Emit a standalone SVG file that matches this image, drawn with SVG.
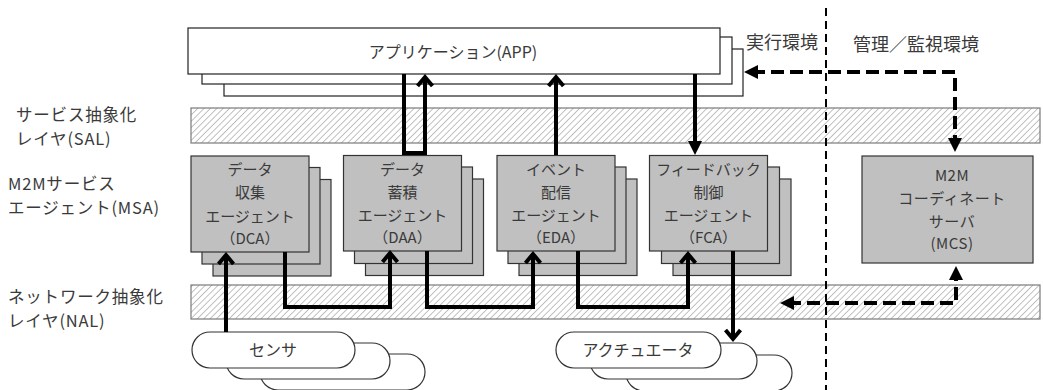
<svg xmlns="http://www.w3.org/2000/svg" width="1043" height="390" viewBox="0 0 1043 390">
<style>
text{font-family:"Noto Sans CJK JP","Noto Sans",sans-serif;fill:#3a3a3a}
.lbl{font-size:16.5px;letter-spacing:0.8px}
.box{font-size:15px;text-anchor:middle}
.app{fill:#fff;stroke:#222;stroke-width:1.2}
.agent{fill:#c0c0c0;stroke:#333;stroke-width:1.2}
.cloud{fill:#fff;stroke:#333;stroke-width:1.2}
.band{fill:url(#hatch);stroke:#7a7a7a;stroke-width:1.2}
.solid{fill:none;stroke:#000;stroke-width:4;stroke-linejoin:miter}
.dash{fill:none;stroke:#000;stroke-width:4;stroke-dasharray:13 6;stroke-linejoin:miter}
</style>
<defs>
<pattern id="hatch" patternUnits="userSpaceOnUse" width="4.5" height="4.5" patternTransform="rotate(45)">
<rect width="4.5" height="4.5" fill="#fff"/>
<line x1="0" y1="0" x2="0" y2="4.5" stroke="#8e8e8e" stroke-width="1.1"/>
</pattern>
<marker id="chev" markerUnits="userSpaceOnUse" viewBox="-14 -11 20 22" markerWidth="20" markerHeight="22" refX="0" refY="0" orient="auto">
<path d="M-9,-7.5 L0,0 L-9,7.5" fill="none" stroke="#000" stroke-width="4" stroke-linejoin="miter"/>
</marker>
<marker id="tri" markerUnits="userSpaceOnUse" viewBox="-8 -9 18 18" markerWidth="18" markerHeight="18" refX="0" refY="0" orient="auto-start-reverse">
<path d="M-6,-7 L8,0 L-6,7 Z" fill="#000"/>
</marker>
</defs>

<g id="layer-labels">
<text class="lbl"><tspan x="16" y="121">サービス抽象化</tspan><tspan x="16" y="145">レイヤ(SAL)</tspan></text>
<text class="lbl"><tspan x="8" y="190">M2Mサービス</tspan><tspan x="8" y="214">エージェント(MSA)</tspan></text>
<text class="lbl"><tspan x="8" y="302.5">ネットワーク抽象化</tspan><tspan x="8" y="326.5">レイヤ(NAL)</tspan></text>
<text class="lbl" x="746" y="49" style="font-size:18px;letter-spacing:0">実行環境</text>
<text class="lbl" x="853" y="51" style="font-size:18px;letter-spacing:0">管理／監視環境</text>
</g>

<g id="sal-band"><rect class="band" x="191" y="108" width="849" height="35"/></g>
<g id="nal-band"><rect class="band" x="191" y="285" width="849" height="34"/></g>

<g id="app">
<rect class="app" x="224" y="49" width="519" height="47"/>
<rect class="app" x="202" y="37" width="530" height="47"/>
<rect class="app" x="188" y="28" width="532" height="46"/>
<text x="453" y="58" style="font-size:16px;text-anchor:middle">アプリケーション(APP)</text>
</g>

<g id="dca">
<rect class="agent" x="213" y="179.5" width="118" height="96.5"/>
<rect class="agent" x="202" y="167.5" width="118" height="96.5"/>
<rect class="agent" x="191" y="156" width="118" height="96"/>
<text class="box"><tspan x="250" y="175">データ</tspan><tspan x="250" y="198">収集</tspan><tspan x="250" y="221.5">エージェント</tspan><tspan x="250" y="243.5">（DCA）</tspan></text>
</g>

<g id="daa">
<rect class="agent" x="365.5" y="179" width="118" height="96.5"/>
<rect class="agent" x="354.5" y="167" width="118" height="96.5"/>
<rect class="agent" x="343.5" y="155.5" width="118" height="95.5"/>
<text class="box"><tspan x="402.5" y="174.5">データ</tspan><tspan x="402.5" y="197.5">蓄積</tspan><tspan x="402.5" y="221">エージェント</tspan><tspan x="402.5" y="243">（DAA）</tspan></text>
</g>

<g id="eda">
<rect class="agent" x="519" y="179" width="118" height="96.5"/>
<rect class="agent" x="508" y="167" width="118" height="96.5"/>
<rect class="agent" x="497" y="155.5" width="118" height="95.5"/>
<text class="box"><tspan x="556" y="174.5">イベント</tspan><tspan x="556" y="197.5">配信</tspan><tspan x="556" y="221">エージェント</tspan><tspan x="556" y="243">（EDA）</tspan></text>
</g>

<g id="fca">
<rect class="agent" x="673" y="179" width="118" height="96.5"/>
<rect class="agent" x="661.5" y="167" width="118" height="96.5"/>
<rect class="agent" x="649.5" y="155.5" width="118" height="95.5"/>
<text class="box"><tspan x="708.5" y="174.5">フィードバック</tspan><tspan x="708.5" y="197.5">制御</tspan><tspan x="708.5" y="221">エージェント</tspan><tspan x="708.5" y="243">（FCA）</tspan></text>
</g>

<g id="mcs">
<rect class="agent" x="862" y="156" width="171" height="107"/>
<text class="box" style="letter-spacing:0.5px"><tspan x="952" y="181">M2M</tspan><tspan x="952" y="203.5">コーディネート</tspan><tspan x="952" y="226.5">サーバ</tspan><tspan x="952" y="249">(MCS)</tspan></text>
</g>

<g id="sensor">
<rect class="cloud" x="260" y="354" width="165" height="36" rx="18" ry="18"/>
<rect class="cloud" x="226" y="343" width="164" height="36" rx="18" ry="18"/>
<rect class="cloud" x="192" y="332" width="163" height="36" rx="18" ry="18"/>
<text x="273" y="355.5" style="font-size:16px;text-anchor:middle">センサ</text>
</g>

<g id="actuator">
<rect class="cloud" x="626" y="355" width="166" height="36" rx="18" ry="18"/>
<rect class="cloud" x="590" y="343" width="167" height="36" rx="18" ry="18"/>
<rect class="cloud" x="556" y="332" width="165" height="36" rx="18" ry="18"/>
<text x="638" y="355.5" style="font-size:16px;text-anchor:middle">アクチュエータ</text>
</g>

<g id="connectors">
<path class="solid" d="M404,74 V153 H425 V77" marker-end="url(#chev)"/>
<path class="solid" d="M556,155 V77" marker-end="url(#chev)"/>
<path class="solid" d="M695,74 V147" marker-end="url(#tri)"/>
<path class="solid" d="M226,332 V255" marker-end="url(#chev)"/>
<path class="solid" d="M285,252 V307 H390 V253" marker-end="url(#chev)"/>
<path class="solid" d="M427,251 V307 H533 V254" marker-end="url(#chev)"/>
<path class="solid" d="M578,251 V307 H688 V254" marker-end="url(#chev)"/>
<path class="solid" d="M733,251 V339" marker-end="url(#chev)"/>
<path class="dash" d="M752,72 H955 V144" marker-start="url(#tri)" marker-end="url(#tri)"/>
<path class="dash" d="M788,303 H956 V274" marker-start="url(#tri)" marker-end="url(#tri)"/>
<path d="M826,8 V390" fill="none" stroke="#000" stroke-width="2" stroke-dasharray="8 5"/>
</g>
</svg>
